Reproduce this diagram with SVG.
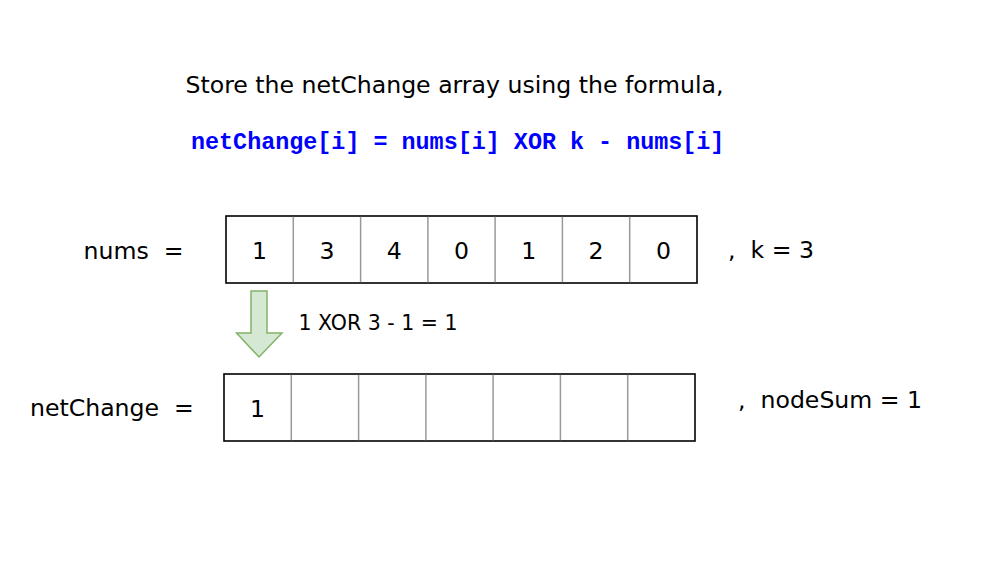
<svg xmlns="http://www.w3.org/2000/svg" width="1006" height="565" viewBox="0 0 1006 565">
<style>
.t{font-family:"DejaVu Sans","Liberation Sans",sans-serif;font-size:23.6px;fill:#000}
.c{text-anchor:middle}
.f{font-family:"Liberation Mono","Courier New",monospace;font-weight:bold;font-size:23.4px;fill:#0000ff}
.outer{fill:#fff;stroke:#000;stroke-width:1.6}
.div{stroke:#999;stroke-width:1.5}
</style>
<rect width="1006" height="565" fill="#fff"/>
<g id="title">
<text class="t" x="185.5" y="92.5">Store the netChange array using the formula,</text>
</g>
<g id="formula">
<text class="f" x="191" y="149" xml:space="preserve">netChange[i] = nums[i] XOR k - nums[i]</text>
</g>
<g id="nums-label">
<text class="t" x="83.5" y="259" xml:space="preserve">nums  =</text>
</g>
<g id="nums-array">
<rect class="outer" x="226" y="216" width="471" height="67"/>
<line class="div" x1="293.3" y1="216.8" x2="293.3" y2="282.2"/>
<line class="div" x1="360.6" y1="216.8" x2="360.6" y2="282.2"/>
<line class="div" x1="427.9" y1="216.8" x2="427.9" y2="282.2"/>
<line class="div" x1="495.1" y1="216.8" x2="495.1" y2="282.2"/>
<line class="div" x1="562.4" y1="216.8" x2="562.4" y2="282.2"/>
<line class="div" x1="629.7" y1="216.8" x2="629.7" y2="282.2"/>
<text class="t c" x="259.6" y="259">1</text>
<text class="t c" x="326.9" y="259">3</text>
<text class="t c" x="394.2" y="259">4</text>
<text class="t c" x="461.5" y="259">0</text>
<text class="t c" x="528.8" y="259">1</text>
<text class="t c" x="596.1" y="259">2</text>
<text class="t c" x="663.4" y="259">0</text>
</g>
<g id="k-label">
<text class="t" x="728" y="258" xml:space="preserve">,  k = 3</text>
</g>
<g id="netchange-label">
<text class="t" x="30" y="415.5" xml:space="preserve">netChange  =</text>
</g>
<g id="netchange-array">
<rect class="outer" x="224" y="374" width="471" height="67"/>
<line class="div" x1="291.3" y1="374.8" x2="291.3" y2="440.2"/>
<line class="div" x1="358.6" y1="374.8" x2="358.6" y2="440.2"/>
<line class="div" x1="425.9" y1="374.8" x2="425.9" y2="440.2"/>
<line class="div" x1="493.1" y1="374.8" x2="493.1" y2="440.2"/>
<line class="div" x1="560.4" y1="374.8" x2="560.4" y2="440.2"/>
<line class="div" x1="627.7" y1="374.8" x2="627.7" y2="440.2"/>
<text class="t c" x="257.6" y="417">1</text>
</g>
<g id="nodesum-label">
<text class="t" x="738" y="408" xml:space="preserve">,  nodeSum = 1</text>
</g>
<g id="connectors">
<path d="M251,291 H267 V333 H282 L259,357 L236.5,333 H251 Z" fill="#d5e8d4" stroke="#82b366" stroke-width="1.5" stroke-linejoin="miter"/>
<text class="t" x="298.5" y="330" style="font-size:20.5px">1 XOR 3 - 1 = 1</text>
</g>
</svg>
